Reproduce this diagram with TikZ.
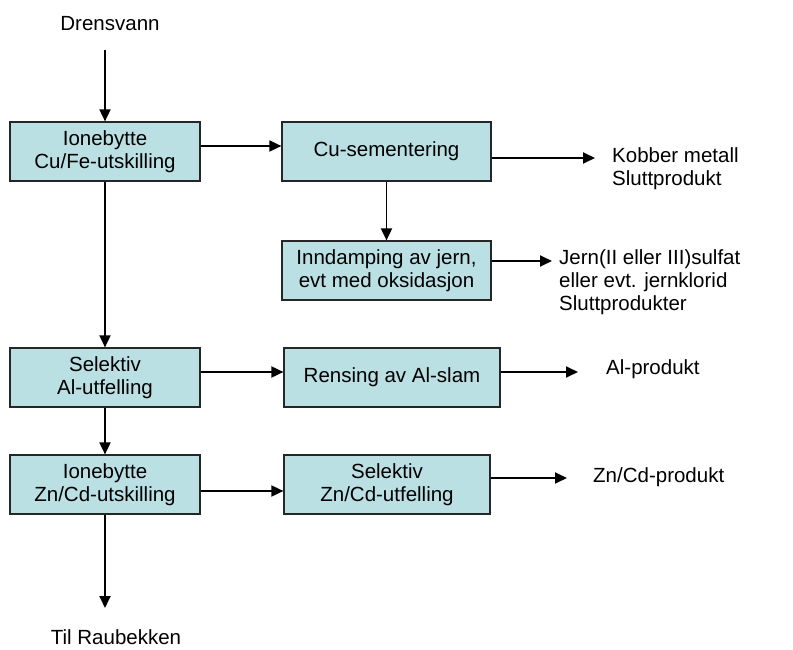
\documentclass[tikz,border=0pt]{standalone}
\usepackage{fontspec}
\setmainfont{Liberation Sans}
\usetikzlibrary{arrows.meta}
\definecolor{boxfill}{RGB}{186,224,228}
\tikzset{
  procbox/.style={draw=black!85, line width=1.2pt, fill=boxfill, inner sep=0pt,
    align=center, font=\fontsize{20.5}{23}\selectfont},
  lbl/.style={inner sep=0pt, align=left, font=\fontsize{20.5}{23}\selectfont},
  arr/.style={line width=1.8pt, -{Triangle[length=12pt,width=11pt]}}
}
\begin{document}
\begin{tikzpicture}[x=1pt,y=-1pt]
\useasboundingbox (0,0) rectangle (793,650);
% boxes
\node[procbox, minimum width=190pt, minimum height=59pt] (b1) at (105,151.5) {Ionebytte\\Cu/Fe-utskilling};
\node[procbox, minimum width=209pt, minimum height=59pt] (b2) at (386.5,151.5) {Cu-sementering};
\node[procbox, minimum width=209pt, minimum height=59pt] (b3) at (386.5,270.5) {Inndamping av jern,\\evt med oksidasjon};
\node[procbox, minimum width=190pt, minimum height=59pt] (b4) at (105,377.5) {Selektiv\\Al-utfelling};
\node[procbox, minimum width=216pt, minimum height=59pt] (b5) at (392,377.5) {Rensing av Al-slam};
\node[procbox, minimum width=190pt, minimum height=59pt] (b6) at (105,484.5) {Ionebytte\\Zn/Cd-utskilling};
\node[procbox, minimum width=206pt, minimum height=59pt] (b7) at (387,484.5) {Selektiv\\Zn/Cd-utfelling};
% labels
\node[lbl] (drens) at (110,24) {Drensvann};
\node[lbl] (til) at (116,637) {Til Raubekken};
\node[lbl, anchor=west] (kob) at (612,169) {Kobber metall\\Sluttprodukt};
\node[lbl, anchor=west] (jern) at (559,282.5) {Jern(II eller III)sulfat\\eller evt. jernklorid\\Sluttprodukter};
\node[lbl, anchor=west] (al) at (606,369) {Al-produkt};
\node[lbl, anchor=west] (zn) at (593,477) {Zn/Cd-produkt};
% free ends
\coordinate (top) at (105,50);
\coordinate (bot) at (105,608);
\coordinate (kobtip) at (595,158);
\coordinate (jerntip) at (552,261);
\coordinate (altip) at (578,372);
\coordinate (zntip) at (567,478);
% connectors
\draw[arr] (top) -- (b1.north);
\draw[arr] ([yshift=5.5pt]b1.east) -- ([yshift=5.5pt]b2.west);
\draw[arr] (b2.east |- kobtip) -- (kobtip);
\draw[arr] (b2.south) -- (b3.north);
\draw[arr] (b3.east |- jerntip) -- (jerntip);
\draw[arr] (b1.south) -- (b4.north);
\draw[arr] ([yshift=5.5pt]b4.east) -- ([yshift=5.5pt]b5.west);
\draw[arr] (b5.east |- altip) -- (altip);
\draw[arr] (b4.south) -- (b6.north);
\draw[arr] ([yshift=-6.5pt]b6.east) -- ([yshift=-6.5pt]b7.west);
\draw[arr] (b7.east |- zntip) -- (zntip);
\draw[arr] (b6.south) -- (bot);
\end{tikzpicture}
\end{document}
